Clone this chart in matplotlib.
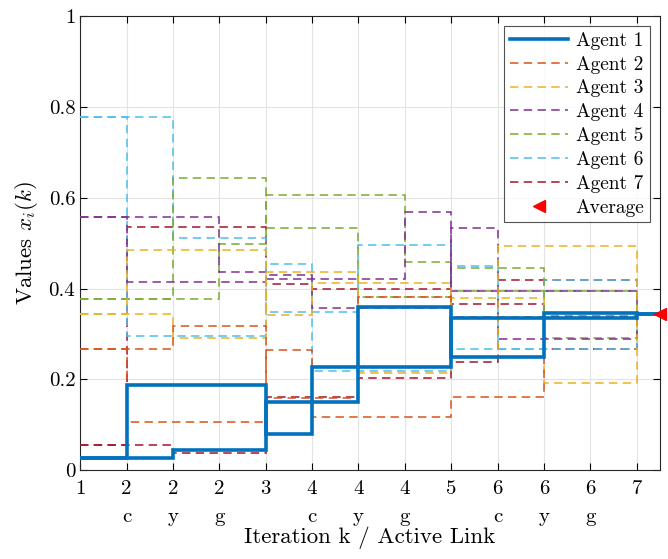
import numpy as np
import matplotlib
matplotlib.use("Agg")
import matplotlib.pyplot as plt
from matplotlib.lines import Line2D

plt.rcParams['font.family'] = ['cmr10', 'DejaVu Serif']
plt.rcParams['mathtext.fontset'] = 'cm'
plt.rcParams['axes.formatter.use_mathtext'] = True

# step edges: iterations / sub-steps, last bit runs to the right border
edges = [0, 1, 2, 3, 4, 5, 6, 7, 8, 9, 10, 11, 12, 12.5]
tick_labels = ['1', '2\nc', '2\ny', '2\ng', '3', '4\nc', '4\ny', '4\ng',
               '5', '6\nc', '6\ny', '6\ng', '7']
avg_value = 0.3437

# two trajectories per agent (values on each interval)
agent1_a = [0.027, 0.187, 0.187, 0.187, 0.079, 0.228, 0.228, 0.228, 0.336, 0.336, 0.336, 0.336, 0.344]
agent1_b = [0.027, 0.027, 0.044, 0.044, 0.150, 0.150, 0.360, 0.360, 0.250, 0.250, 0.347, 0.347, 0.344]
agent2_a = [0.266, 0.106, 0.106, 0.106, 0.264, 0.117, 0.117, 0.117, 0.161, 0.161, 0.340, 0.340, 0.344]
agent2_b = [0.266, 0.266, 0.317, 0.317, 0.159, 0.159, 0.382, 0.382, 0.338, 0.338, 0.338, 0.338, 0.344]
agent3_a = [0.345, 0.485, 0.485, 0.485, 0.341, 0.413, 0.413, 0.413, 0.250, 0.494, 0.494, 0.494, 0.344]
agent3_b = [0.345, 0.345, 0.291, 0.291, 0.437, 0.437, 0.215, 0.215, 0.380, 0.380, 0.192, 0.192, 0.344]
agent4_a = [0.557, 0.415, 0.415, 0.415, 0.430, 0.358, 0.358, 0.358, 0.534, 0.289, 0.289, 0.289, 0.344]
agent4_b = [0.557, 0.557, 0.557, 0.437, 0.420, 0.420, 0.420, 0.569, 0.395, 0.395, 0.395, 0.395, 0.344]
agent5_a = [0.378, 0.378, 0.378, 0.498, 0.607, 0.607, 0.607, 0.459, 0.395, 0.395, 0.395, 0.395, 0.344]
agent5_b = [0.378, 0.378, 0.644, 0.644, 0.534, 0.534, 0.382, 0.382, 0.446, 0.446, 0.291, 0.291, 0.344]
agent6_a = [0.778, 0.296, 0.296, 0.296, 0.455, 0.219, 0.219, 0.219, 0.449, 0.266, 0.266, 0.266, 0.344]
agent6_b = [0.778, 0.778, 0.511, 0.511, 0.349, 0.349, 0.496, 0.496, 0.266, 0.266, 0.418, 0.418, 0.344]
agent7_a = [0.055, 0.535, 0.535, 0.535, 0.410, 0.398, 0.398, 0.398, 0.239, 0.418, 0.418, 0.418, 0.344]
agent7_b = [0.055, 0.055, 0.037, 0.037, 0.160, 0.160, 0.202, 0.202, 0.365, 0.365, 0.266, 0.266, 0.344]

agents = [(agent1_a, agent1_b), (agent2_a, agent2_b), (agent3_a, agent3_b),
          (agent4_a, agent4_b), (agent5_a, agent5_b), (agent6_a, agent6_b),
          (agent7_a, agent7_b)]
names = ['Agent %d' % (i + 1) for i in range(7)]
colors = ['#0072BD', '#D95319', '#EDB120', '#7E2F8E', '#77AC30', '#4DBEEE', '#A2142F']
dash = (0, (5.5, 3.5))

fig = plt.figure(figsize=(6.68, 5.59), dpi=100)
ax = fig.add_axes([0.12, 0.159, 0.868, 0.812])

handles = []
for i in range(6, -1, -1):
    for vals in agents[i]:
        if i == 0:
            ax.stairs(vals, edges, baseline=None, color=colors[i], lw=2.6, zorder=5)
        else:
            ax.stairs(vals, edges, baseline=None, color=colors[i], lw=1.1,
                      linestyle=dash, zorder=3)

for i in range(7):
    if i == 0:
        handles.append(Line2D([], [], color=colors[i], lw=2.6))
    else:
        handles.append(Line2D([], [], color=colors[i], lw=1.1, linestyle=dash))
ax.plot([edges[-1]], [avg_value], marker='<', color='red', markersize=9,
        linestyle='none', clip_on=False, zorder=6)
handles.append(Line2D([], [], marker='<', color='red', markersize=9, linestyle='none'))

ax.set_xlim(0, 12.5)
ax.set_ylim(0, 1)
ax.set_xticks(range(13))
ax.set_xticklabels(tick_labels, linespacing=1.75)
ax.set_yticks([0, 0.2, 0.4, 0.6, 0.8, 1])
ax.set_yticklabels(['0', '0.2', '0.4', '0.6', '0.8', '1'])
ax.tick_params(direction='in', length=5, width=0.8, labelsize=15, top=True, right=True)
ax.tick_params(axis='x', pad=7)
ax.grid(True, color='#e3e3e3', lw=0.8)
ax.set_axisbelow(True)
for s in ax.spines.values():
    s.set_linewidth(0.8)
    s.set_color('#262626')

ax.set_xlabel('Iteration k / Active Link', fontsize=16.5, labelpad=0)
ax.set_ylabel('Values $x_i(k)$', fontsize=16.5, labelpad=6)

leg = ax.legend(handles, names + ['Average'], loc='upper right', fontsize=14,
                frameon=True, fancybox=False, edgecolor='#262626',
                handlelength=3.0, handletextpad=0.4, borderpad=0.3,
                labelspacing=0.3, borderaxespad=0.5)
leg.get_frame().set_linewidth(0.8)

fig.savefig('out.png', dpi=100)
